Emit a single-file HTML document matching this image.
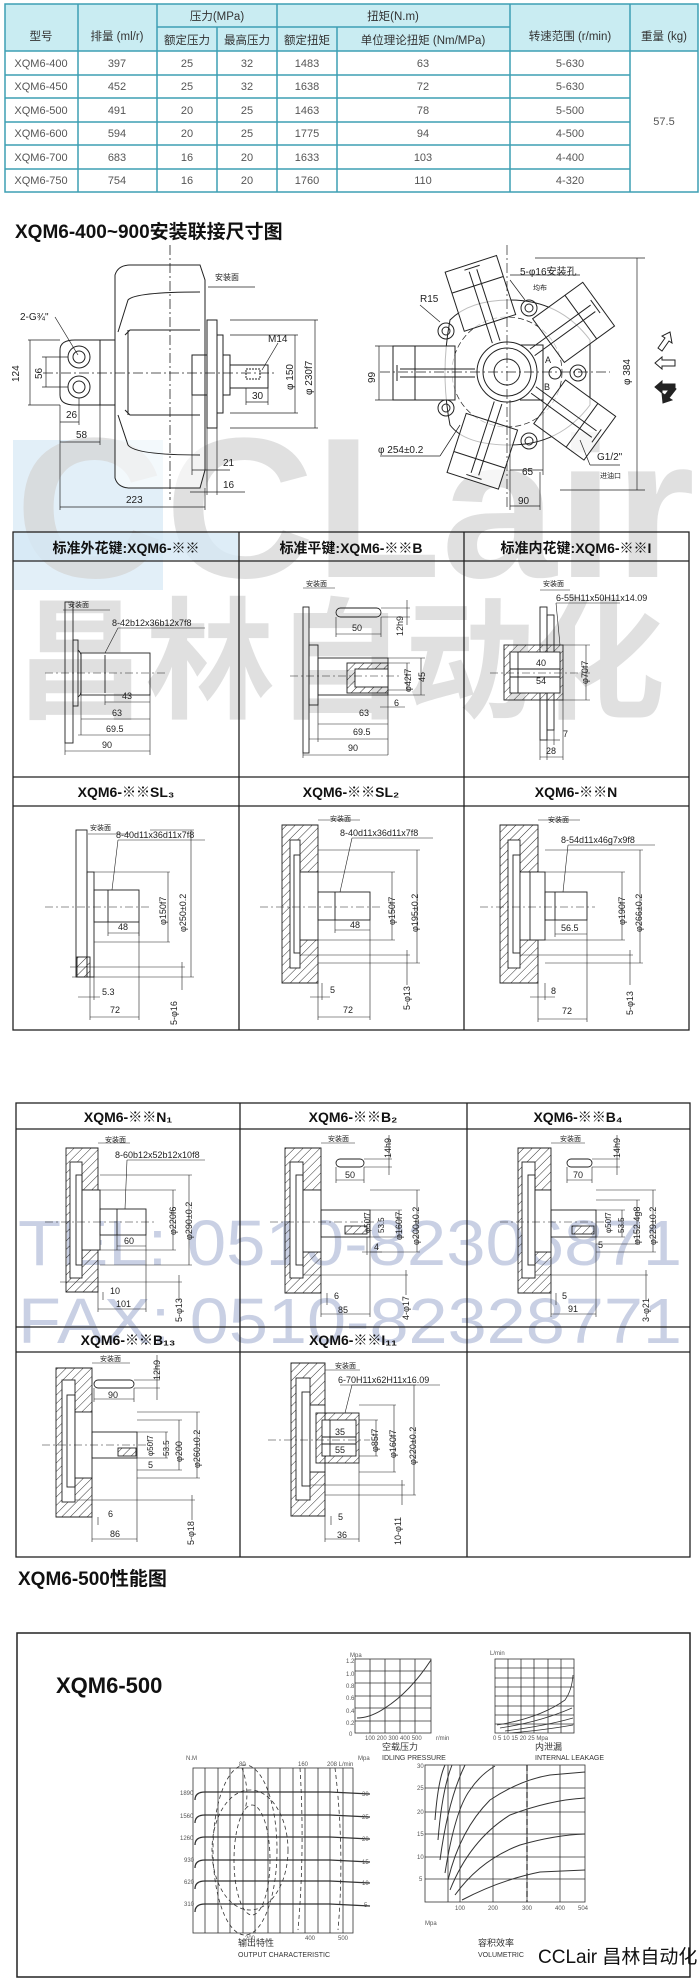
<!DOCTYPE html>
<html><head><meta charset="utf-8"><style>
html,body{margin:0;padding:0;background:#fff;}
svg{display:block;}
text{font-family:"Liberation Sans","Noto Sans CJK SC",sans-serif;}
</style></head><body>
<svg width="700" height="1980" viewBox="0 0 700 1980" xmlns="http://www.w3.org/2000/svg">
<defs>
<pattern id="h" width="6" height="6" patternUnits="userSpaceOnUse" patternTransform="rotate(45)"><line x1="0" y1="0" x2="0" y2="6" stroke="#333" stroke-width="1"/></pattern>
</defs>
<rect width="700" height="1980" fill="#fff"/>

<!-- watermark -->
<rect x="13" y="440" width="150" height="150" fill="#d6e8f5" opacity="0.7"/>
<text x="15" y="577" font-size="200" font-weight="bold" fill="#d4d4d4" opacity="0.7" textLength="680" lengthAdjust="spacingAndGlyphs">CCLair</text>
<text x="15" y="708" font-size="132" font-weight="bold" fill="#d0d0d0" opacity="0.65" textLength="650" lengthAdjust="spacingAndGlyphs" font-family="Liberation Sans, Noto Sans CJK SC, sans-serif">昌林自动化</text>
<text x="18" y="1265" font-size="64" fill="#c9d0e4" font-family="Liberation Serif, serif" textLength="664" lengthAdjust="spacingAndGlyphs">TEL: 0510-82306871</text>
<text x="18" y="1343" font-size="64" fill="#c9d0e4" font-family="Liberation Serif, serif" textLength="664" lengthAdjust="spacingAndGlyphs">FAX: 0510-82328771</text>

<!-- TABLE -->
<g font-size="11" fill="#555" text-anchor="middle">
<rect x="5" y="4" width="693" height="47" fill="#c9ecf2"/>
<g stroke="#3d9fb4" stroke-width="1.5" fill="none">
<rect x="5" y="4" width="693" height="188"/>
<line x1="157" y1="27" x2="510" y2="27"/>
<line x1="5" y1="51" x2="698" y2="51"/>
<line x1="5" y1="75" x2="630" y2="75"/><line x1="5" y1="98" x2="630" y2="98"/><line x1="5" y1="122" x2="630" y2="122"/><line x1="5" y1="145" x2="630" y2="145"/><line x1="5" y1="169" x2="630" y2="169"/>
<line x1="78" y1="4" x2="78" y2="192"/><line x1="157" y1="4" x2="157" y2="192"/><line x1="217" y1="27" x2="217" y2="192"/><line x1="277" y1="4" x2="277" y2="192"/><line x1="337" y1="27" x2="337" y2="192"/><line x1="510" y1="4" x2="510" y2="192"/><line x1="630" y1="4" x2="630" y2="192"/>
</g>
<g fill="#333" font-size="11.5">
<text x="41" y="40">型号</text><text x="117" y="40">排量 (ml/r)</text>
<text x="217" y="20">压力(MPa)</text><text x="393" y="20">扭矩(N.m)</text>
<text x="187" y="44">额定压力</text><text x="247" y="44">最高压力</text><text x="307" y="44">额定扭矩</text><text x="423" y="44">单位理论扭矩 (Nm/MPa)</text>
<text x="570" y="40">转速范围 (r/min)</text><text x="664" y="40">重量 (kg)</text>
</g>
<text x="41" y="67">XQM6-400</text><text x="117" y="67">397</text><text x="187" y="67">25</text><text x="247" y="67">32</text><text x="307" y="67">1483</text><text x="423" y="67">63</text><text x="570" y="67">5-630</text>
<text x="41" y="90">XQM6-450</text><text x="117" y="90">452</text><text x="187" y="90">25</text><text x="247" y="90">32</text><text x="307" y="90">1638</text><text x="423" y="90">72</text><text x="570" y="90">5-630</text>
<text x="41" y="114">XQM6-500</text><text x="117" y="114">491</text><text x="187" y="114">20</text><text x="247" y="114">25</text><text x="307" y="114">1463</text><text x="423" y="114">78</text><text x="570" y="114">5-500</text>
<text x="41" y="137">XQM6-600</text><text x="117" y="137">594</text><text x="187" y="137">20</text><text x="247" y="137">25</text><text x="307" y="137">1775</text><text x="423" y="137">94</text><text x="570" y="137">4-500</text>
<text x="41" y="161">XQM6-700</text><text x="117" y="161">683</text><text x="187" y="161">16</text><text x="247" y="161">20</text><text x="307" y="161">1633</text><text x="423" y="161">103</text><text x="570" y="161">4-400</text>
<text x="41" y="184">XQM6-750</text><text x="117" y="184">754</text><text x="187" y="184">16</text><text x="247" y="184">20</text><text x="307" y="184">1760</text><text x="423" y="184">110</text><text x="570" y="184">4-320</text>
<text x="664" y="125">57.5</text>
</g>

<!-- TITLE 1 -->
<text x="15" y="238" font-size="19" font-weight="bold" fill="#111">XQM6-400~900安装联接尺寸图</text>

<!-- TOP DRAWING LEFT VIEW -->
<g stroke="#222" stroke-width="1" fill="none">
<path d="M115,275 Q118,265 130,265 L200,265 L205,280 L205,470 L200,488 L130,488 Q118,488 115,478 Z" fill="#fff" fill-opacity="0.6"/>
<path d="M118,332 L128,300 Q135,292 200,292 M118,415 L128,445 Q135,455 200,455"/>
<path d="M125,335 L130,330 L200,330 M125,410 L130,415 L200,415"/>
<line x1="128" y1="330" x2="128" y2="415"/>
<rect x="100" y="340" width="15" height="65"/>
<path d="M60,350 Q60,340 75,340 L100,340 L100,405 L75,405 Q60,405 60,395 Z"/>
<circle cx="79" cy="357" r="11"/><circle cx="79" cy="357" r="6"/>
<circle cx="79" cy="387" r="11"/><circle cx="79" cy="387" r="6"/>
<rect x="192" y="355" width="15" height="40"/>
<rect x="207" y="320" width="10" height="108"/>
<rect x="217" y="335" width="6" height="78"/>
<rect x="223" y="355" width="7" height="40"/>
<rect x="230" y="365" width="38" height="23"/>
<rect x="246" y="369" width="14" height="10" stroke-dasharray="2,1"/>
<line x1="43" y1="373" x2="277" y2="373" stroke-dasharray="10,3,2,3" stroke-width="0.8"/>
<line x1="170" y1="245" x2="170" y2="500" stroke-dasharray="10,3,2,3" stroke-width="0.8"/>
<g stroke-width="0.7">
<line x1="28" y1="340" x2="60" y2="340"/><line x1="28" y1="405" x2="60" y2="405"/><line x1="30" y1="340" x2="30" y2="405"/>
<line x1="42" y1="357" x2="68" y2="357"/><line x1="42" y1="387" x2="68" y2="387"/><line x1="46" y1="357" x2="46" y2="387"/>
<line x1="60" y1="405" x2="60" y2="445"/><line x1="79" y1="398" x2="79" y2="425"/><line x1="60" y1="422" x2="79" y2="422"/>
<line x1="100" y1="405" x2="100" y2="445"/><line x1="60" y1="442" x2="100" y2="442"/>
<line x1="60" y1="445" x2="60" y2="510"/><line x1="205" y1="488" x2="205" y2="510"/><line x1="60" y1="507" x2="205" y2="507"/>
<line x1="192" y1="470" x2="230" y2="470"/><line x1="192" y1="395" x2="192" y2="475"/><line x1="207" y1="428" x2="207" y2="495"/>
<line x1="190" y1="492" x2="245" y2="492"/><line x1="217" y1="428" x2="217" y2="495"/>
<line x1="268" y1="388" x2="268" y2="405"/><line x1="246" y1="388" x2="246" y2="405"/><line x1="246" y1="402" x2="268" y2="402"/>
<line x1="230" y1="320" x2="318" y2="320"/><line x1="230" y1="428" x2="318" y2="428"/><line x1="315" y1="320" x2="315" y2="428"/>
<line x1="230" y1="335" x2="298" y2="335"/><line x1="230" y1="413" x2="298" y2="413"/><line x1="295" y1="335" x2="295" y2="413"/>
<line x1="262" y1="370" x2="278" y2="343"/>
<line x1="55" y1="317" x2="78" y2="355"/>
<line x1="208" y1="287" x2="255" y2="287"/>
</g>
</g>
<g font-size="10" fill="#222">
<text x="20" y="320">2-G¾"</text>
<text x="268" y="342">M14</text>
<text x="215" y="280" font-size="8">安装面</text>
<text x="66" y="418">26</text><text x="76" y="438">58</text>
<text x="126" y="503">223</text><text x="223" y="466">21</text><text x="223" y="488">16</text>
<text x="252" y="399">30</text>
<text transform="translate(19,382) rotate(-90)">124</text>
<text transform="translate(42,379) rotate(-90)">56</text>
<text transform="translate(293,390) rotate(-90)">φ 150</text>
<text transform="translate(312,395) rotate(-90)">φ 230f7</text>
</g>

<!-- TOP DRAWING RIGHT VIEW -->
<g stroke="#222" stroke-width="1" fill="none">
<path d="M450,320 Q470,300 510,300 Q560,300 590,340 L590,405 Q560,445 510,445 Q465,445 450,425 Q440,373 450,320 Z" fill="#fff" fill-opacity="0.6"/>
<circle cx="507" cy="372" r="55" stroke-dasharray="6,3" stroke-width="0.7"/>
<circle cx="507" cy="372" r="30"/><circle cx="507" cy="372" r="24"/><circle cx="507" cy="372" r="13"/>
<g id="arm">
<rect x="393" y="346" width="62" height="54" fill="#fff" fill-opacity="0.7"/>
<line x1="415" y1="346" x2="415" y2="400"/>
<line x1="400" y1="369" x2="475" y2="369"/><line x1="400" y1="377" x2="475" y2="377"/>
<line x1="397" y1="365" x2="397" y2="381"/>
</g>
<use href="#arm" transform="rotate(72,507,372)"/>
<use href="#arm" transform="rotate(144,507,372)"/>
<use href="#arm" transform="rotate(216,507,372)"/>
<use href="#arm" transform="rotate(288,507,372)"/>
<circle cx="529" cy="308" r="8"/><circle cx="529" cy="308" r="4"/>
<circle cx="446" cy="331" r="8"/><circle cx="446" cy="331" r="4"/>
<circle cx="446" cy="408" r="8"/><circle cx="446" cy="408" r="4"/>
<circle cx="529" cy="441" r="8"/><circle cx="529" cy="441" r="4"/>
<circle cx="578" cy="373" r="8"/><circle cx="578" cy="373" r="4"/>
<circle cx="555" cy="373" r="6"/>
<path d="M520,345 L543,345 L543,400 L520,400"/>
<line x1="380" y1="372" x2="610" y2="372" stroke-dasharray="10,3,2,3" stroke-width="0.7"/>
<line x1="507" y1="245" x2="507" y2="510" stroke-dasharray="10,3,2,3" stroke-width="0.7"/>
<g stroke-width="0.7">
<line x1="375" y1="346" x2="393" y2="346"/><line x1="375" y1="400" x2="393" y2="400"/><line x1="379" y1="346" x2="379" y2="400"/>
<line x1="535" y1="258" x2="645" y2="258"/><line x1="560" y1="490" x2="645" y2="490"/><line x1="637" y1="258" x2="637" y2="490"/>
<line x1="510" y1="275" x2="580" y2="275"/><line x1="510" y1="280" x2="525" y2="300"/>
<line x1="420" y1="305" x2="440" y2="322"/>
<line x1="380" y1="456" x2="440" y2="456"/><line x1="440" y1="456" x2="460" y2="425"/>
<line x1="510" y1="470" x2="543" y2="470"/><line x1="543" y1="400" x2="543" y2="475"/>
<line x1="510" y1="400" x2="510" y2="510"/><line x1="510" y1="506" x2="540" y2="506"/><line x1="540" y1="472" x2="540" y2="510"/>
<line x1="590" y1="465" x2="620" y2="465"/><line x1="590" y1="465" x2="580" y2="440"/>
</g>
</g>
<g font-size="10" fill="#222">
<text x="520" y="275">5-φ16安装孔</text>
<text x="533" y="290" font-size="7">均布</text>
<text x="420" y="302">R15</text>
<text x="378" y="453">φ 254±0.2</text>
<text x="522" y="475">65</text><text x="518" y="504">90</text>
<text x="597" y="460">G1/2"</text><text x="600" y="478" font-size="7">进油口</text>
<text x="545" y="363" font-size="9">A</text><text x="544" y="390" font-size="9">B</text>
<text transform="translate(375,383) rotate(-90)">99</text>
<text transform="translate(630,385) rotate(-90)">φ 384</text>
</g>
<g stroke="#222" stroke-width="1">
<path d="M655,363 L662,357 L662,360 L675,360 L675,366 L662,366 L662,369 Z" fill="#fff"/>
<path d="M655,387 L662,381 L662,384 L675,384 L675,390 L662,390 L662,393 Z" fill="#222"/>
<path d="M670,332 L672,343 L669,341 L662,351 L658,348 L665,338 L662,336 Z" fill="#fff"/>
<path d="M663,403 L662,393 L665,395 L672,386 L676,389 L669,398 L672,400 Z" fill="#222"/>
</g>

<!-- GRID A -->
<g stroke="#222" stroke-width="1.3" fill="none">
<rect x="13" y="532" width="676" height="498"/>
<line x1="13" y1="561" x2="689" y2="561"/><line x1="13" y1="777" x2="689" y2="777"/><line x1="13" y1="806" x2="689" y2="806"/>
<line x1="239" y1="532" x2="239" y2="1030"/><line x1="464" y1="532" x2="464" y2="1030"/>
</g>
<rect x="14" y="533" width="224" height="27" fill="#d6e8f5" opacity="0.8"/>
<g font-size="14" font-weight="bold" fill="#111" text-anchor="middle">
<text x="126" y="553">标准外花键:XQM6-※※</text>
<text x="351" y="553">标准平键:XQM6-※※B</text>
<text x="576" y="553">标准内花键:XQM6-※※I</text>
<text x="126" y="797">XQM6-※※SL₃</text>
<text x="351" y="797">XQM6-※※SL₂</text>
<text x="576" y="797">XQM6-※※N</text>
</g>

<g stroke="#222" stroke-width="0.9" fill="none">
<!-- A1 -->
<rect x="65" y="602" width="8" height="141"/><rect x="73" y="640" width="5" height="66"/>
<path d="M78,650 Q81,653 81,655 L81,691 Q81,695 78,697"/>
<rect x="81" y="653" width="69" height="42"/><line x1="105" y1="655" x2="105" y2="693"/>
<line x1="45" y1="673" x2="165" y2="673" stroke-dasharray="8,3,2,3" stroke-width="0.6"/>
<g stroke-width="0.6"><line x1="63" y1="610" x2="110" y2="610"/><line x1="105" y1="653" x2="118" y2="628"/><line x1="118" y1="628" x2="205" y2="628"/>
<line x1="105" y1="695" x2="105" y2="705"/><line x1="105" y1="702" x2="150" y2="702"/><line x1="150" y1="695" x2="150" y2="755"/>
<line x1="81" y1="695" x2="81" y2="735"/><line x1="81" y1="719" x2="150" y2="719"/><line x1="78" y1="735" x2="150" y2="735"/>
<line x1="65" y1="743" x2="65" y2="755"/><line x1="65" y1="751" x2="150" y2="751"/></g>
<!-- A2 -->
<rect x="303" y="607" width="6" height="146"/><rect x="309" y="645" width="9" height="60"/>
<rect x="318" y="658" width="70" height="37"/>
<rect x="347" y="663" width="41" height="30" fill="url(#h)"/>
<rect x="355" y="669" width="33" height="18" fill="#fff"/>
<rect x="336" y="608" width="45" height="9" rx="4.5"/>
<line x1="290" y1="676" x2="400" y2="676" stroke-dasharray="8,3,2,3" stroke-width="0.6"/>
<g stroke-width="0.6"><line x1="303" y1="588" x2="335" y2="588"/>
<line x1="336" y1="617" x2="336" y2="637"/><line x1="381" y1="617" x2="381" y2="637"/><line x1="336" y1="634" x2="381" y2="634"/>
<line x1="381" y1="608" x2="410" y2="608"/><line x1="381" y1="617" x2="410" y2="617"/><line x1="407" y1="600" x2="407" y2="625"/>
<line x1="388" y1="658" x2="425" y2="658"/><line x1="388" y1="695" x2="425" y2="695"/><line x1="421" y1="658" x2="421" y2="695"/>
<line x1="388" y1="663" x2="410" y2="663"/><line x1="388" y1="690" x2="410" y2="690"/><line x1="407" y1="663" x2="407" y2="690"/>
<line x1="380" y1="707" x2="405" y2="707"/><line x1="388" y1="695" x2="388" y2="755"/>
<line x1="318" y1="695" x2="318" y2="742"/><line x1="318" y1="724" x2="388" y2="724"/><line x1="309" y1="739" x2="388" y2="739"/>
<line x1="303" y1="753" x2="303" y2="758"/><line x1="303" y1="755" x2="388" y2="755"/></g>
<!-- A3 -->
<rect x="540" y="607" width="7" height="133"/><rect x="547" y="615" width="7" height="115"/>
<rect x="504" y="645" width="59" height="55" fill="url(#h)"/>
<rect x="510" y="652" width="50" height="41" fill="#fff"/>
<line x1="518" y1="652" x2="518" y2="693"/><line x1="510" y1="669" x2="560" y2="669"/><line x1="510" y1="677" x2="560" y2="677"/>
<line x1="490" y1="673" x2="590" y2="673" stroke-dasharray="8,3,2,3" stroke-width="0.6"/>
<g stroke-width="0.6"><line x1="540" y1="590" x2="570" y2="590"/><line x1="556" y1="603" x2="620" y2="603"/><line x1="556" y1="603" x2="560" y2="645"/>
<line x1="563" y1="645" x2="590" y2="645"/><line x1="563" y1="700" x2="590" y2="700"/><line x1="586" y1="645" x2="586" y2="700"/>
<line x1="547" y1="730" x2="547" y2="760"/><line x1="554" y1="730" x2="554" y2="745"/><line x1="540" y1="740" x2="540" y2="760"/>
<line x1="563" y1="700" x2="563" y2="760"/><line x1="540" y1="757" x2="563" y2="757"/><line x1="547" y1="740" x2="560" y2="740"/></g>

<!-- A4 SL3 -->
<rect x="76" y="830" width="11" height="147"/><rect x="87" y="872" width="7" height="105"/>
<rect x="77" y="957" width="13" height="20" fill="url(#h)"/>
<rect x="94" y="890" width="45" height="32"/><line x1="108" y1="890" x2="108" y2="922"/>
<line x1="45" y1="907" x2="150" y2="907" stroke-dasharray="8,3,2,3" stroke-width="0.6"/>
<g stroke-width="0.6"><line x1="88" y1="834" x2="130" y2="834"/><line x1="112" y1="890" x2="118" y2="840"/><line x1="118" y1="840" x2="205" y2="840"/>
<line x1="94" y1="872" x2="170" y2="872"/><line x1="94" y1="942" x2="170" y2="942"/><line x1="168" y1="872" x2="168" y2="942"/>
<line x1="108" y1="922" x2="108" y2="936"/><line x1="139" y1="922" x2="139" y2="936"/><line x1="108" y1="933" x2="139" y2="933"/>
<line x1="150" y1="830" x2="194" y2="830"/><line x1="72" y1="977" x2="194" y2="977"/><line x1="191" y1="830" x2="191" y2="977"/>
<line x1="70" y1="967" x2="185" y2="967"/><line x1="182" y1="962" x2="182" y2="990"/>
<line x1="90" y1="977" x2="90" y2="1020"/><line x1="94" y1="977" x2="94" y2="1000"/><line x1="78" y1="997" x2="100" y2="997"/>
<line x1="139" y1="922" x2="139" y2="1020"/><line x1="90" y1="1017" x2="139" y2="1017"/></g>
<!-- A5 SL2 -->
<path d="M282,825 L318,825 L318,872 L300,872 L300,940 L318,940 L318,983 L282,983 Z" fill="url(#h)"/>
<rect x="290" y="840" width="10" height="128" fill="#fff"/><rect x="294" y="855" width="6" height="98"/>
<rect x="300" y="872" width="18" height="68" fill="#fff"/>
<rect x="318" y="892" width="52" height="28"/><line x1="335" y1="892" x2="335" y2="920"/>
<line x1="260" y1="907" x2="380" y2="907" stroke-dasharray="8,3,2,3" stroke-width="0.6"/>
<g stroke-width="0.6"><line x1="318" y1="820" x2="360" y2="820"/><line x1="340" y1="892" x2="352" y2="838"/><line x1="352" y1="838" x2="433" y2="838"/>
<line x1="318" y1="872" x2="395" y2="872"/><line x1="318" y1="940" x2="395" y2="940"/><line x1="392" y1="872" x2="392" y2="940"/>
<line x1="318" y1="850" x2="420" y2="850"/><line x1="318" y1="963" x2="420" y2="963"/><line x1="417" y1="850" x2="417" y2="963"/>
<line x1="300" y1="955" x2="410" y2="955"/><line x1="407" y1="950" x2="407" y2="985"/>
<line x1="335" y1="920" x2="335" y2="933"/><line x1="370" y1="920" x2="370" y2="1020"/><line x1="335" y1="930" x2="370" y2="930"/>
<line x1="318" y1="983" x2="318" y2="1020"/><line x1="322" y1="983" x2="322" y2="1000"/><line x1="310" y1="997" x2="330" y2="997"/>
<line x1="318" y1="1017" x2="370" y2="1017"/></g>
<!-- A6 N -->
<path d="M500,825 L538,825 L538,872 L520,872 L520,940 L538,940 L538,983 L500,983 Z" fill="url(#h)"/>
<rect x="508" y="840" width="12" height="128" fill="#fff"/><rect x="513" y="855" width="7" height="98"/>
<rect x="520" y="872" width="25" height="68" fill="#fff"/><line x1="530" y1="872" x2="530" y2="940"/>
<rect x="545" y="892" width="42" height="28"/><line x1="555" y1="892" x2="555" y2="920"/>
<line x1="480" y1="907" x2="595" y2="907" stroke-dasharray="8,3,2,3" stroke-width="0.6"/>
<g stroke-width="0.6"><line x1="538" y1="820" x2="580" y2="820"/><line x1="563" y1="892" x2="568" y2="845"/><line x1="568" y1="845" x2="655" y2="845"/>
<line x1="545" y1="872" x2="625" y2="872"/><line x1="545" y1="940" x2="625" y2="940"/><line x1="622" y1="872" x2="622" y2="940"/>
<line x1="545" y1="850" x2="643" y2="850"/><line x1="545" y1="963" x2="643" y2="963"/><line x1="640" y1="850" x2="640" y2="963"/>
<line x1="520" y1="955" x2="633" y2="955"/><line x1="630" y1="950" x2="630" y2="985"/>
<line x1="555" y1="920" x2="555" y2="937"/><line x1="587" y1="920" x2="587" y2="1022"/><line x1="555" y1="934" x2="587" y2="934"/>
<line x1="538" y1="983" x2="538" y2="1022"/><line x1="545" y1="983" x2="545" y2="1000"/><line x1="530" y1="997" x2="555" y2="997"/>
<line x1="538" y1="1019" x2="587" y2="1019"/></g>
</g>
<g font-size="9" fill="#222">
<text x="68" y="607" font-size="7">安装面</text><text x="112" y="626">8-42b12x36b12x7f8</text>
<text x="122" y="699">43</text><text x="112" y="716">63</text><text x="106" y="732">69.5</text><text x="102" y="748">90</text>
<text x="306" y="586" font-size="7">安装面</text><text x="352" y="631">50</text><text x="359" y="716">63</text><text x="353" y="735">69.5</text><text x="348" y="751">90</text><text x="394" y="706">6</text>
<text transform="translate(403,636) rotate(-90)">12h9</text><text transform="translate(411,692) rotate(-90)">φ42f7</text><text transform="translate(425,682) rotate(-90)">45</text>
<text x="543" y="586" font-size="7">安装面</text><text x="556" y="601">6-55H11x50H11x14.09</text>
<text x="536" y="666">40</text><text x="536" y="684">54</text><text transform="translate(588,684) rotate(-90)">φ70f7</text><text x="563" y="737">7</text><text x="546" y="754">28</text>
<text x="90" y="830" font-size="7">安装面</text><text x="116" y="838">8-40d11x36d11x7f8</text>
<text x="118" y="930">48</text><text transform="translate(166,925) rotate(-90)">φ150f7</text><text transform="translate(186,932) rotate(-90)">φ250±0.2</text>
<text x="102" y="995">5.3</text><text x="110" y="1013">72</text><text transform="translate(177,1025) rotate(-90)">5-φ16</text>
<text x="330" y="821" font-size="7">安装面</text><text x="340" y="836">8-40d11x36d11x7f8</text>
<text x="350" y="928">48</text><text transform="translate(395,925) rotate(-90)">φ150f7</text><text transform="translate(418,932) rotate(-90)">φ195±0.2</text>
<text x="330" y="993">5</text><text x="343" y="1013">72</text><text transform="translate(410,1010) rotate(-90)">5-φ13</text>
<text x="548" y="822" font-size="7">安装面</text><text x="561" y="843">8-54d11x46g7x9f8</text>
<text x="561" y="931">56.5</text><text transform="translate(625,925) rotate(-90)">φ190f7</text><text transform="translate(642,932) rotate(-90)">φ266±0.2</text>
<text x="551" y="994">8</text><text x="562" y="1014">72</text><text transform="translate(633,1015) rotate(-90)">5-φ13</text>
</g>

<!-- GRID B -->
<g stroke="#222" stroke-width="1.3" fill="none">
<rect x="16" y="1103" width="674" height="454"/>
<line x1="16" y1="1129" x2="690" y2="1129"/><line x1="16" y1="1327" x2="690" y2="1327"/><line x1="16" y1="1352" x2="690" y2="1352"/>
<line x1="240" y1="1103" x2="240" y2="1557"/><line x1="467" y1="1103" x2="467" y2="1557"/>
</g>
<g font-size="14" font-weight="bold" fill="#111" text-anchor="middle">
<text x="128" y="1122">XQM6-※※N₁</text>
<text x="353" y="1122">XQM6-※※B₂</text>
<text x="578" y="1122">XQM6-※※B₄</text>
<text x="128" y="1345">XQM6-※※B₁₃</text>
<text x="353" y="1345">XQM6-※※I₁₁</text>
</g>
<g stroke="#222" stroke-width="0.9" fill="none">
<!-- B1 -->
<path d="M66,1148 L98,1148 L98,1190 L82,1190 L82,1250 L98,1250 L98,1292 L66,1292 Z" fill="url(#h)"/>
<rect x="70" y="1162" width="12" height="116" fill="#fff"/><rect x="76" y="1175" width="6" height="90"/>
<rect x="82" y="1190" width="18" height="60" fill="#fff"/>
<rect x="100" y="1209" width="46" height="26"/><line x1="117" y1="1209" x2="117" y2="1235"/>
<line x1="45" y1="1222" x2="155" y2="1222" stroke-dasharray="8,3,2,3" stroke-width="0.6"/>
<g stroke-width="0.6"><line x1="98" y1="1143" x2="130" y2="1143"/><line x1="125" y1="1209" x2="127" y2="1160"/><line x1="127" y1="1160" x2="205" y2="1160"/>
<line x1="100" y1="1190" x2="176" y2="1190"/><line x1="100" y1="1250" x2="176" y2="1250"/><line x1="173" y1="1190" x2="173" y2="1250"/>
<line x1="100" y1="1175" x2="192" y2="1175"/><line x1="100" y1="1265" x2="192" y2="1265"/><line x1="189" y1="1175" x2="189" y2="1265"/>
<line x1="60" y1="1282" x2="182" y2="1282"/><line x1="179" y1="1275" x2="179" y2="1300"/>
<line x1="117" y1="1235" x2="117" y2="1250"/><line x1="117" y1="1246" x2="146" y2="1246"/>
<line x1="98" y1="1292" x2="98" y2="1312"/><line x1="103" y1="1292" x2="103" y2="1300"/><line x1="146" y1="1235" x2="146" y2="1312"/><line x1="98" y1="1309" x2="146" y2="1309"/></g>
<!-- B2 -->
<path d="M285,1148 L321,1148 L321,1190 L303,1190 L303,1252 L321,1252 L321,1293 L285,1293 Z" fill="url(#h)"/>
<rect x="290" y="1162" width="13" height="116" fill="#fff"/><rect x="296" y="1175" width="7" height="90"/>
<rect x="303" y="1190" width="18" height="62" fill="#fff"/>
<rect x="321" y="1210" width="49" height="27"/>
<rect x="345" y="1226" width="22" height="8" fill="url(#h)"/>
<rect x="336" y="1159" width="28" height="8" rx="4"/>
<line x1="270" y1="1222" x2="378" y2="1222" stroke-dasharray="8,3,2,3" stroke-width="0.6"/>
<g stroke-width="0.6"><line x1="321" y1="1143" x2="355" y2="1143"/>
<line x1="336" y1="1167" x2="336" y2="1183"/><line x1="364" y1="1167" x2="364" y2="1183"/><line x1="336" y1="1180" x2="364" y2="1180"/>
<line x1="364" y1="1159" x2="392" y2="1159"/><line x1="364" y1="1167" x2="392" y2="1167"/><line x1="389" y1="1135" x2="389" y2="1175"/>
<line x1="370" y1="1190" x2="420" y2="1190"/><line x1="370" y1="1252" x2="420" y2="1252"/><line x1="417" y1="1190" x2="417" y2="1252"/>
<line x1="370" y1="1210" x2="402" y2="1210"/><line x1="370" y1="1237" x2="402" y2="1237"/><line x1="399" y1="1210" x2="399" y2="1237"/>
<line x1="367" y1="1237" x2="367" y2="1255"/><line x1="362" y1="1252" x2="382" y2="1252"/>
<line x1="303" y1="1275" x2="408" y2="1275"/><line x1="406" y1="1270" x2="406" y2="1295"/>
<line x1="321" y1="1293" x2="321" y2="1317"/><line x1="327" y1="1293" x2="327" y2="1305"/><line x1="370" y1="1237" x2="370" y2="1317"/><line x1="321" y1="1314" x2="370" y2="1314"/></g>
<!-- B3 -->
<path d="M518,1148 L551,1148 L551,1190 L535,1190 L535,1252 L551,1252 L551,1293 L518,1293 Z" fill="url(#h)"/>
<rect x="522" y="1162" width="13" height="116" fill="#fff"/><rect x="528" y="1175" width="7" height="90"/>
<rect x="535" y="1190" width="16" height="62" fill="#fff"/>
<rect x="551" y="1210" width="45" height="27"/>
<rect x="572" y="1226" width="22" height="8" fill="url(#h)"/>
<rect x="567" y="1159" width="25" height="8" rx="4"/>
<line x1="500" y1="1222" x2="605" y2="1222" stroke-dasharray="8,3,2,3" stroke-width="0.6"/>
<g stroke-width="0.6"><line x1="551" y1="1143" x2="585" y2="1143"/>
<line x1="567" y1="1167" x2="567" y2="1183"/><line x1="592" y1="1167" x2="592" y2="1183"/><line x1="567" y1="1180" x2="592" y2="1180"/>
<line x1="592" y1="1159" x2="620" y2="1159"/><line x1="592" y1="1167" x2="620" y2="1167"/><line x1="617" y1="1135" x2="617" y2="1175"/>
<line x1="596" y1="1190" x2="656" y2="1190"/><line x1="596" y1="1252" x2="656" y2="1252"/><line x1="653" y1="1190" x2="653" y2="1252"/>
<line x1="596" y1="1200" x2="640" y2="1200"/><line x1="596" y1="1244" x2="640" y2="1244"/><line x1="637" y1="1200" x2="637" y2="1244"/>
<line x1="596" y1="1210" x2="625" y2="1210"/><line x1="596" y1="1237" x2="625" y2="1237"/><line x1="622" y1="1210" x2="622" y2="1237"/>
<line x1="535" y1="1275" x2="648" y2="1275"/><line x1="646" y1="1270" x2="646" y2="1300"/>
<line x1="551" y1="1293" x2="551" y2="1317"/><line x1="556" y1="1293" x2="556" y2="1305"/><line x1="596" y1="1237" x2="596" y2="1317"/><line x1="551" y1="1314" x2="596" y2="1314"/></g>
<!-- B4 -->
<path d="M56,1368 L92,1368 L92,1412 L75,1412 L75,1478 L92,1478 L92,1517 L56,1517 Z" fill="url(#h)"/>
<rect x="62" y="1380" width="13" height="122" fill="#fff"/><rect x="67" y="1395" width="8" height="92"/>
<rect x="75" y="1412" width="17" height="66" fill="#fff"/>
<rect x="92" y="1432" width="45" height="26"/>
<rect x="118" y="1448" width="18" height="8" fill="url(#h)"/>
<rect x="94" y="1380" width="40" height="8" rx="4"/>
<line x1="42" y1="1445" x2="150" y2="1445" stroke-dasharray="8,3,2,3" stroke-width="0.6"/>
<g stroke-width="0.6"><line x1="92" y1="1363" x2="130" y2="1363"/>
<line x1="94" y1="1388" x2="94" y2="1402"/><line x1="134" y1="1388" x2="134" y2="1402"/><line x1="94" y1="1399" x2="134" y2="1399"/>
<line x1="134" y1="1380" x2="160" y2="1380"/><line x1="134" y1="1388" x2="160" y2="1388"/><line x1="157" y1="1355" x2="157" y2="1400"/>
<line x1="137" y1="1412" x2="200" y2="1412"/><line x1="137" y1="1478" x2="200" y2="1478"/><line x1="197" y1="1412" x2="197" y2="1478"/>
<line x1="137" y1="1420" x2="182" y2="1420"/><line x1="137" y1="1470" x2="182" y2="1470"/><line x1="179" y1="1420" x2="179" y2="1470"/>
<line x1="137" y1="1432" x2="168" y2="1432"/><line x1="137" y1="1458" x2="168" y2="1458"/><line x1="166" y1="1432" x2="166" y2="1458"/>
<line x1="75" y1="1500" x2="195" y2="1500"/><line x1="192" y1="1495" x2="192" y2="1520"/>
<line x1="92" y1="1517" x2="92" y2="1542"/><line x1="98" y1="1517" x2="98" y2="1525"/><line x1="137" y1="1458" x2="137" y2="1542"/><line x1="92" y1="1539" x2="137" y2="1539"/></g>
<!-- B5 -->
<path d="M291,1363 L325,1363 L325,1405 L310,1405 L310,1472 L325,1472 L325,1516 L291,1516 Z" fill="url(#h)"/>
<rect x="296" y="1378" width="14" height="122" fill="#fff"/><rect x="302" y="1392" width="8" height="94"/>
<rect x="310" y="1405" width="15" height="67" fill="#fff"/>
<rect x="316" y="1413" width="43" height="50" fill="url(#h)"/>
<rect x="322" y="1420" width="34" height="36" fill="#fff"/>
<line x1="330" y1="1420" x2="330" y2="1456"/><line x1="322" y1="1437" x2="356" y2="1437"/><line x1="322" y1="1444" x2="356" y2="1444"/>
<line x1="268" y1="1440" x2="370" y2="1440" stroke-dasharray="8,3,2,3" stroke-width="0.6"/>
<g stroke-width="0.6"><line x1="325" y1="1370" x2="360" y2="1370"/><line x1="345" y1="1413" x2="352" y2="1385"/><line x1="352" y1="1385" x2="440" y2="1385"/>
<line x1="359" y1="1420" x2="378" y2="1420"/><line x1="359" y1="1456" x2="378" y2="1456"/><line x1="376" y1="1420" x2="376" y2="1456"/>
<line x1="359" y1="1405" x2="396" y2="1405"/><line x1="359" y1="1472" x2="396" y2="1472"/><line x1="394" y1="1405" x2="394" y2="1472"/>
<line x1="340" y1="1385" x2="416" y2="1385"/><line x1="325" y1="1495" x2="416" y2="1495"/><line x1="414" y1="1385" x2="414" y2="1495"/>
<line x1="310" y1="1485" x2="405" y2="1485"/><line x1="402" y1="1480" x2="402" y2="1505"/>
<line x1="325" y1="1516" x2="325" y2="1542"/><line x1="331" y1="1516" x2="331" y2="1525"/><line x1="359" y1="1463" x2="359" y2="1542"/><line x1="325" y1="1539" x2="359" y2="1539"/></g>
</g>
<g font-size="9" fill="#222">
<text x="105" y="1142" font-size="7">安装面</text><text x="115" y="1158">8-60b12x52b12x10f8</text>
<text x="124" y="1244">60</text><text transform="translate(176,1235) rotate(-90)">φ220f6</text><text transform="translate(192,1240) rotate(-90)">φ290±0.2</text>
<text x="110" y="1294">10</text><text x="116" y="1307">101</text><text transform="translate(182,1322) rotate(-90)">5-φ13</text>
<text x="328" y="1141" font-size="7">安装面</text><text x="345" y="1178">50</text><text transform="translate(391,1158) rotate(-90)">14h9</text>
<text transform="translate(370,1233) rotate(-90)" font-size="8">φ50f7</text><text transform="translate(384,1233) rotate(-90)" font-size="8">53.5</text>
<text transform="translate(402,1240) rotate(-90)">φ160f7</text><text transform="translate(419,1245) rotate(-90)">φ200±0.2</text>
<text x="374" y="1250">4</text><text x="334" y="1299">6</text><text x="338" y="1313">85</text><text transform="translate(409,1320) rotate(-90)">4-φ17</text>
<text x="560" y="1141" font-size="7">安装面</text><text x="573" y="1178">70</text><text transform="translate(620,1158) rotate(-90)">14h9</text>
<text transform="translate(611,1233) rotate(-90)" font-size="8">φ50f7</text><text transform="translate(624,1233) rotate(-90)" font-size="8">53.5</text>
<text transform="translate(640,1245) rotate(-90)">φ152.4g8</text><text transform="translate(656,1245) rotate(-90)">φ229±0.2</text>
<text x="598" y="1248">5</text><text x="562" y="1299">5</text><text x="568" y="1312">91</text><text transform="translate(649,1322) rotate(-90)">3-φ21</text>
<text x="100" y="1361" font-size="7">安装面</text><text x="108" y="1398">90</text><text transform="translate(160,1380) rotate(-90)">12h9</text>
<text transform="translate(153,1456) rotate(-90)" font-size="8">φ50f7</text><text transform="translate(169,1456) rotate(-90)" font-size="8">53.5</text>
<text transform="translate(182,1462) rotate(-90)">φ200</text><text transform="translate(200,1468) rotate(-90)">φ260±0.2</text>
<text x="148" y="1468">5</text><text x="108" y="1517">6</text><text x="110" y="1537">86</text><text transform="translate(194,1545) rotate(-90)">5-φ18</text>
<text x="335" y="1368" font-size="7">安装面</text><text x="338" y="1383">6-70H11x62H11x16.09</text>
<text x="335" y="1435">35</text><text x="335" y="1453">55</text>
<text transform="translate(378,1452) rotate(-90)">φ85f7</text><text transform="translate(396,1458) rotate(-90)">φ160f7</text><text transform="translate(416,1465) rotate(-90)">φ220±0.2</text>
<text x="338" y="1520">5</text><text x="337" y="1538">36</text><text transform="translate(401,1545) rotate(-90)">10-φ11</text>
</g>

<!-- PERFORMANCE -->
<text x="18" y="1585" font-size="19" font-weight="bold" fill="#111">XQM6-500性能图</text>
<rect x="17" y="1633" width="673" height="344" fill="none" stroke="#222" stroke-width="1.5"/>
<text x="56" y="1693" font-size="22" font-weight="bold" fill="#111">XQM6-500</text>

<g stroke="#333" stroke-width="0.8" fill="none">
<rect x="355" y="1659" width="76" height="74"/>
<path d="M370,1659V1733M385,1659V1733M400,1659V1733M415,1659V1733M355,1671H431M355,1683H431M355,1696H431M355,1708H431M355,1721H431"/>
<path d="M357,1718 Q370,1718 385,1708 Q410,1692 431,1660" stroke-width="1"/>
<rect x="495" y="1659" width="79" height="74"/>
<path d="M508,1659V1733M521,1659V1733M534,1659V1733M548,1659V1733M561,1659V1733M495,1668H574M495,1678H574M495,1687H574M495,1696H574M495,1706H574M495,1715H574M495,1724H574"/>
<path d="M497,1725 Q540,1718 565,1700 Q572,1690 573,1675 M500,1728 Q540,1722 572,1708 M505,1731 Q545,1726 573,1718 M510,1733 Q545,1730 573,1725"/>
<rect x="193" y="1768" width="160" height="165"/>
<path d="M205,1768V1933M218,1768V1933M230,1768V1933M243,1768V1933M255,1768V1933M268,1768V1933M280,1768V1933M293,1768V1933M305,1768V1933M318,1768V1933M330,1768V1933M343,1768V1933"/>
<path d="M195,1800 Q195,1792 205,1792 L330,1792 L370,1794 M195,1823 Q195,1815 205,1815 L330,1815 L370,1817 M195,1845 Q195,1837 205,1837 L330,1837 L370,1839 M195,1868 Q195,1860 205,1860 L330,1860 L370,1862 M195,1889 Q195,1881 205,1881 L330,1881 L370,1883 M195,1912 Q195,1904 205,1904 L330,1904 L370,1906" stroke-width="1.3"/>
<g stroke-dasharray="4,3">
<ellipse cx="250" cy="1850" rx="38" ry="60"/>
<ellipse cx="252" cy="1860" rx="18" ry="55"/>
<ellipse cx="245" cy="1850" rx="32" ry="85"/>
<path d="M242,1768 Q250,1790 245,1810 M300,1768 Q305,1850 298,1930 M335,1768 Q345,1850 338,1930"/>
</g>
<rect x="425" y="1765" width="160" height="137"/>
<path d="M448,1765V1902M460,1765V1902M493,1765V1902M527,1765V1902M560,1765V1902M425,1788H585M425,1812H585M425,1834H585M425,1857H585M425,1879H585"/>
<path d="M435,1820 Q438,1780 445,1765 M438,1840 Q442,1790 452,1765 M440,1860 Q448,1800 465,1765 M445,1873 Q455,1810 470,1790 Q480,1775 495,1766 M448,1880 Q460,1830 490,1800 Q520,1780 550,1775 L585,1772 M450,1890 Q470,1840 510,1815 Q550,1800 585,1798 M455,1895 Q480,1860 520,1845 Q555,1835 585,1834 M462,1900 Q500,1880 540,1872 L585,1870" stroke-width="1"/>
<path d="M527,1765V1902" stroke-dasharray="6,3" stroke-width="1.3"/>
</g>
<g font-size="6" fill="#555">
<text x="350" y="1657">Mpa</text><text x="346" y="1663">1.2</text><text x="346" y="1676">1.0</text><text x="346" y="1688">0.8</text><text x="346" y="1700">0.6</text><text x="346" y="1713">0.4</text><text x="346" y="1725">0.2</text><text x="349" y="1736">0</text>
<text x="365" y="1740">100 200 300 400 500</text><text x="436" y="1740">r/min</text>
<text x="490" y="1655">L/min</text><text x="493" y="1740">0 5 10 15 20 25 Mpa</text>
<text x="186" y="1760">N.M</text><text x="358" y="1760">Mpa</text><text x="239" y="1766">80</text><text x="298" y="1766">160</text><text x="327" y="1766">208 L/min</text>
<text x="180" y="1795">1890</text><text x="180" y="1818">1560</text><text x="180" y="1840">1260</text><text x="184" y="1862">930</text><text x="184" y="1884">620</text><text x="184" y="1906">310</text>
<text x="362" y="1796">30</text><text x="362" y="1819">25</text><text x="362" y="1841">20</text><text x="362" y="1864">15</text><text x="362" y="1885">10</text><text x="364" y="1907">5</text>
<text x="245" y="1940">200</text><text x="305" y="1940">400</text><text x="338" y="1940">500</text>
<text x="417" y="1768">30</text><text x="417" y="1790">25</text><text x="417" y="1814">20</text><text x="417" y="1836">15</text><text x="417" y="1859">10</text><text x="419" y="1881">5</text>
<text x="455" y="1910">100</text><text x="488" y="1910">200</text><text x="522" y="1910">300</text><text x="555" y="1910">400</text><text x="578" y="1910">504</text>
<text x="425" y="1925">Mpa</text>
</g>
<g fill="#333">
<text x="382" y="1750" font-size="9">空载压力</text><text x="382" y="1760" font-size="7">IDLING  PRESSURE</text>
<text x="535" y="1750" font-size="9">内泄漏</text><text x="535" y="1760" font-size="7">INTERNAL  LEAKAGE</text>
<text x="238" y="1946" font-size="9">输出特性</text><text x="238" y="1957" font-size="7">OUTPUT  CHARACTERISTIC</text>
<text x="478" y="1946" font-size="9">容积效率</text><text x="478" y="1957" font-size="7">VOLUMETRIC</text>
<text x="538" y="1963" font-size="19" fill="#111">CCLair 昌林自动化</text>
</g>
</svg>
</body></html>
